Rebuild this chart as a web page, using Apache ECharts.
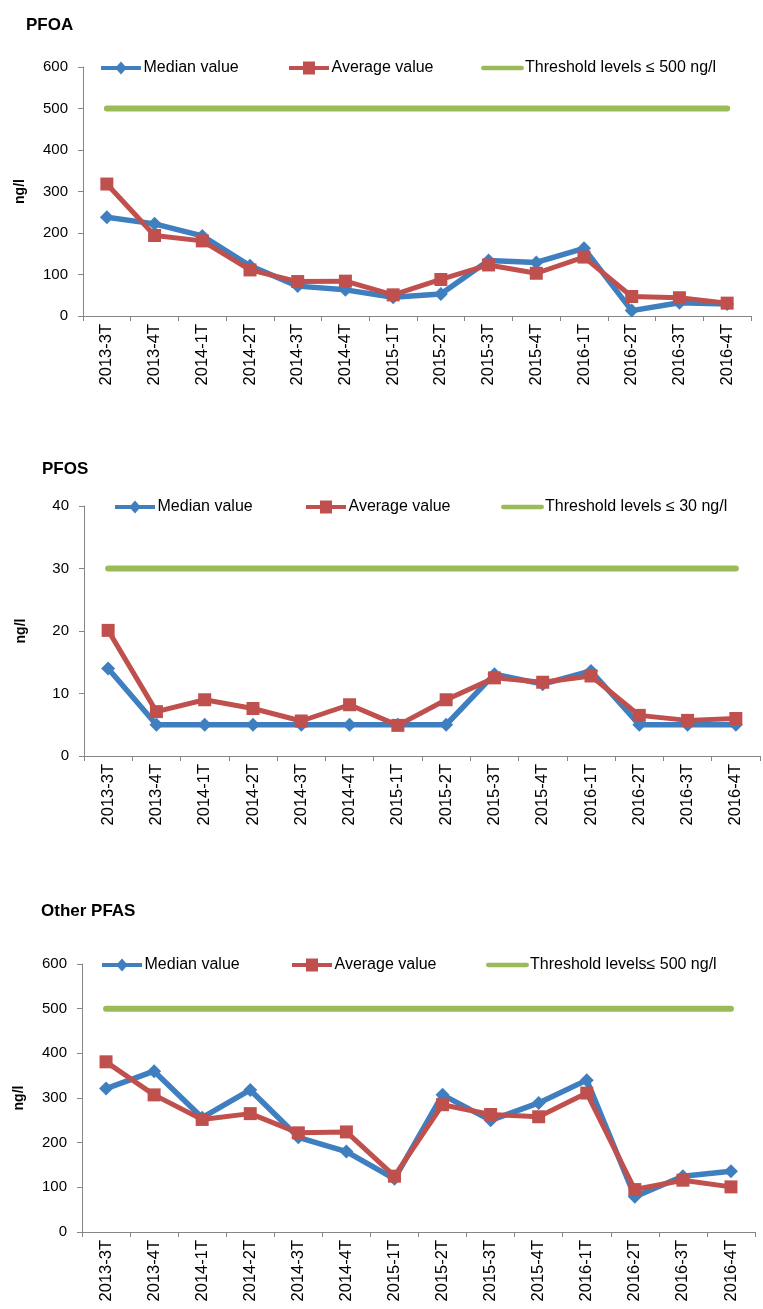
<!DOCTYPE html>
<html>
<head>
<meta charset="utf-8">
<script src="https://cdn.jsdelivr.net/npm/echarts@6/dist/echarts.min.js"></script>
<style>
  html, body { margin: 0; padding: 0; background: #fff; }
  #main { width: 763px; height: 1309px; }
</style>
</head>
<body>
<div id="main"></div>
<script>
        // quarters on the x axis (same for the three panels)
        var quarters = ['2013-3T', '2013-4T', '2014-1T', '2014-2T', '2014-3T', '2014-4T', '2015-1T',
                        '2015-2T', '2015-3T', '2015-4T', '2016-1T', '2016-2T', '2016-3T', '2016-4T'];

        // PFOA
        var pfoaMedian  = [238, 222, 193, 121, 72, 63, 45, 53, 134, 129, 163, 13, 32, 29];
        var pfoaAverage = [318, 194, 181, 111, 83, 84, 51, 88, 123, 103, 142, 47, 44, 31];
        var pfoaLimit   = [500, 500, 500, 500, 500, 500, 500, 500, 500, 500, 500, 500, 500, 500];

        // PFOS
        var pfosMedian  = [14, 5, 5, 5, 5, 5, 5, 5, 13.1, 11.5, 13.6, 5, 5, 5];
        var pfosAverage = [20.1, 7.1, 9.0, 7.6, 5.6, 8.2, 4.9, 9.0, 12.5, 11.8, 12.8, 6.5, 5.7, 6.0];
        var pfosLimit   = [30, 30, 30, 30, 30, 30, 30, 30, 30, 30, 30, 30, 30, 30];

        // Other PFAS
        var otherMedian  = [321, 360, 256, 318, 212, 180, 119, 307, 250, 289, 340, 79, 125, 136];
        var otherAverage = [381, 307, 252, 265, 222, 224, 125, 285, 263, 258, 311, 95, 116, 101];
        var otherLimit   = [500, 500, 500, 500, 500, 500, 500, 500, 500, 500, 500, 500, 500, 500];

        var yTicks1 = [0, 600, 100];
        var yTicks2 = [0, 40, 10];
        var yTicks3 = [0, 600, 100];

        var myChart = echarts.init(document.getElementById('main'));

        var BLUE = '#3F7FBF', RED = '#C0504D', GREEN = '#9BBB59', AXIS = '#868686';
        var FONT = '"Liberation Sans", Arial, sans-serif';

        function xAx(i) {
            return {
                type: 'category', gridIndex: i, data: quarters, boundaryGap: true,
                axisLine: { lineStyle: { color: AXIS, width: 1 } },
                axisTick: { show: true, alignWithLabel: false, length: 5, lineStyle: { color: AXIS } },
                axisLabel: { rotate: 90, interval: 0, color: '#000', fontSize: 16.5, fontFamily: FONT, margin: 8 },
                splitLine: { show: false }
            };
        }
        function yAx(i, t) {
            return {
                type: 'value', gridIndex: i, min: t[0], max: t[1], interval: t[2],
                name: 'ng/l', nameLocation: 'middle', nameRotate: 90, nameGap: 56,
                nameTextStyle: { fontWeight: 'bold', fontSize: 14, fontFamily: FONT, color: '#000' },
                axisLine: { show: true, lineStyle: { color: AXIS, width: 1 } },
                axisTick: { show: true, length: 5, lineStyle: { color: AXIS } },
                axisLabel: { color: '#000', fontSize: 15, fontFamily: FONT, margin: 15 },
                splitLine: { show: false }
            };
        }
        function line(name, i, data, kind) {
            var s = {
                name: name, type: 'line', xAxisIndex: i, yAxisIndex: i, data: data,
                animation: false
            };
            if (kind === 'median') {
                s.symbol = 'diamond'; s.symbolSize = 14;
                s.itemStyle = { color: BLUE };
                s.lineStyle = { color: BLUE, width: 5.5 };
                s.z = 3;
            } else if (kind === 'average') {
                s.symbol = 'rect'; s.symbolSize = 13;
                s.itemStyle = { color: RED };
                s.lineStyle = { color: RED, width: 5 };
                s.z = 4;
            } else {
                s.symbol = 'none';
                s.itemStyle = { color: GREEN };
                s.lineStyle = { color: GREEN, width: 6, cap: 'round' };
                s.z = 2;
            }
            return s;
        }
        function leg(name, left, top, kind) {
            var icon = kind === 'median'
                ? 'path://M0,4.5 L16,4.5 L20,0 L24,4.5 L40,4.5 L40,8.5 L24,8.5 L20,13 L16,8.5 L0,8.5 Z'
                : kind === 'average'
                ? 'path://M0,4.5 L14,4.5 L14,0 L26,0 L26,4.5 L40,4.5 L40,8.5 L26,8.5 L26,13 L14,13 L14,8.5 L0,8.5 Z'
                : 'path://M2,4.5 L38,4.5 A2,2 0 0 1 38,8.5 L2,8.5 A2,2 0 0 1 2,4.5 Z';
            return {
                left: left, top: top, orient: 'horizontal', selectedMode: false,
                itemWidth: 43, itemHeight: 13, itemGap: 0,
                textStyle: { fontSize: 16, fontFamily: FONT, color: '#000', padding: [0, 0, 0, -4] },
                data: [{ name: name, icon: icon }]
            };
        }

        var option = {
            backgroundColor: '#fff',
            title: [
                { text: 'PFOA', left: 21, top: 12, textStyle: { fontSize: 17, fontWeight: 'bold', fontFamily: FONT, color: '#000' } },
                { text: 'PFOS', left: 37, top: 456, textStyle: { fontSize: 17, fontWeight: 'bold', fontFamily: FONT, color: '#000' } },
                { text: 'Other PFAS', left: 36, top: 898, textStyle: { fontSize: 17, fontWeight: 'bold', fontFamily: FONT, color: '#000' } }
            ],
            legend: [
                leg('Median value', 96, 55, 'median'),
                leg('Average value', 284, 55, 'average'),
                leg('Threshold levels \u2264 500 ng/l', 476, 55, 'limit'),
                leg('Median value ', 110, 494, 'median'),
                leg('Average value ', 301, 494, 'average'),
                leg('Threshold levels \u2264 30 ng/l', 496, 494, 'limit'),
                leg('Median value  ', 97, 952, 'median'),
                leg('Average value  ', 287, 952, 'average'),
                leg('Threshold levels\u2264 500 ng/l', 481, 952, 'limit')
            ],
            grid: [
                { left: 83, right: 12, top: 67, height: 249 },
                { left: 84, right: 3, top: 506, height: 250 },
                { left: 82, right: 8, top: 964, height: 268 }
            ],
            xAxis: [xAx(0), xAx(1), xAx(2)],
            yAxis: [yAx(0, yTicks1), yAx(1, yTicks2), yAx(2, yTicks3)],
            series: [
                line('Threshold levels \u2264 500 ng/l', 0, pfoaLimit, 'limit'),
                line('Median value', 0, pfoaMedian, 'median'),
                line('Average value', 0, pfoaAverage, 'average'),
                line('Threshold levels \u2264 30 ng/l', 1, pfosLimit, 'limit'),
                line('Median value ', 1, pfosMedian, 'median'),
                line('Average value ', 1, pfosAverage, 'average'),
                line('Threshold levels\u2264 500 ng/l', 2, otherLimit, 'limit'),
                line('Median value  ', 2, otherMedian, 'median'),
                line('Average value  ', 2, otherAverage, 'average')
            ]
        };

        myChart.setOption(option);
</script>
</body>
</html>
